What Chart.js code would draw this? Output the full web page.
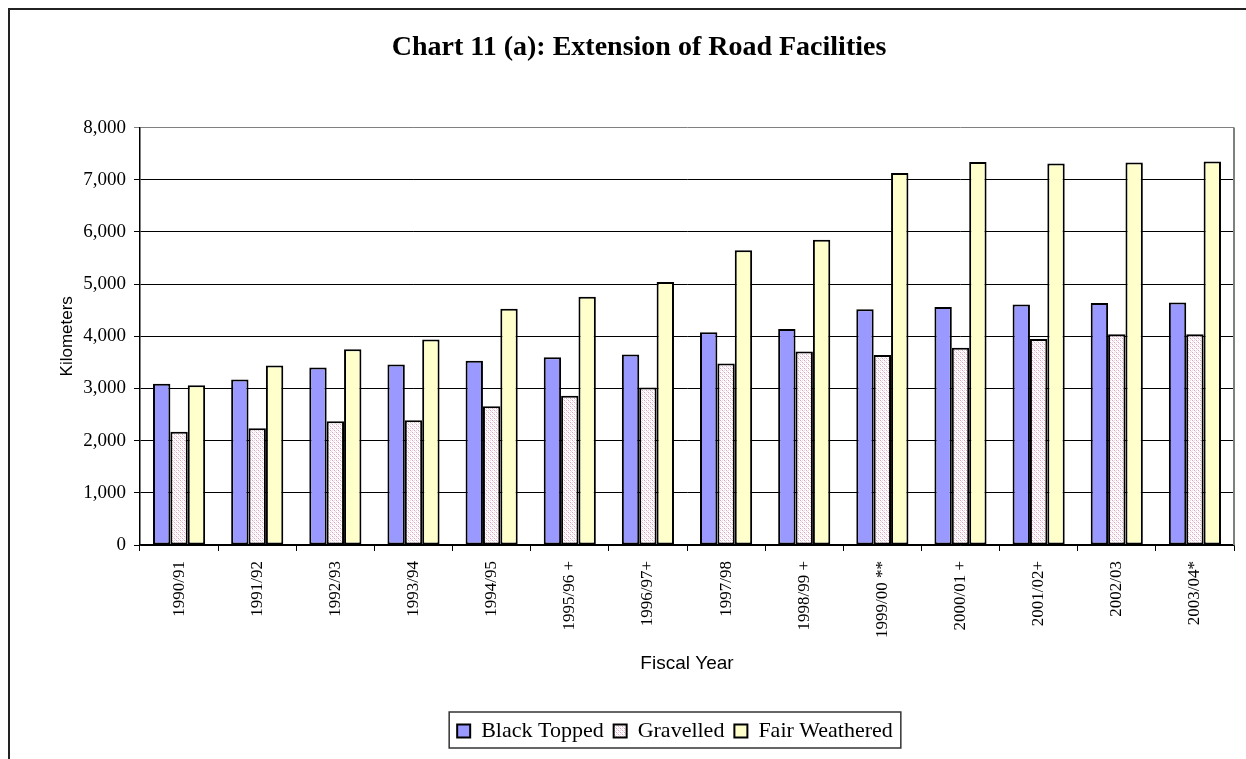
<!DOCTYPE html>
<html>
<head>
<meta charset="utf-8">
<script src="https://cdn.jsdelivr.net/npm/chart.js@4/dist/chart.umd.min.js"></script>
<style>
  html, body { margin: 0; padding: 0; background: #fff; }
  canvas { display: block; }
</style>
</head>
<body>
<canvas id="roadChart" width="1246" height="759"></canvas>
<script>
// Data (kilometres)
const categories = ['1990/91', '1991/92', '1992/93', '1993/94', '1994/95', '1995/96 +', '1996/97+',
    '1997/98', '1998/99 +', '1999/00 **', '2000/01 +', '2001/02+', '2002/03', '2003/04*'];
const blackTopped = [3090, 3170, 3400, 3460, 3530, 3600, 3650, 4080, 4140, 4520, 4560, 4610, 4640, 4650];
const gravelled = [2170, 2240, 2370, 2390, 2660, 2860, 3020, 3480, 3710, 3640, 3780, 3950, 4040, 4040];
const fairWeathered = [3060, 3440, 3750, 3940, 4530, 4760, 5040, 5650, 5850, 7130, 7340, 7310, 7330, 7350];
const yTicks = [0, 1000, 2000, 3000, 4000, 5000, 6000, 7000, 8000];

const SERIF = "'Liberation Serif', 'Times New Roman', serif";
const SANS = "'Liberation Sans', Arial, sans-serif";

// Dotted pink fill used by the "Gravelled" series
function makeDotPattern() {
    const c = document.createElement('canvas');
    c.width = 4;
    c.height = 4;
    const g = c.getContext('2d');
    g.fillStyle = '#ffffff';
    g.fillRect(0, 0, 4, 4);
    g.fillStyle = '#d9a3bd';
    g.fillRect(0, 0, 1, 1);
    g.fillRect(2, 2, 1, 1);
    g.fillStyle = '#f0d6e2';
    g.fillRect(2, 0, 1, 1);
    g.fillRect(0, 2, 1, 1);
    g.fillRect(1, 1, 1, 1);
    g.fillRect(3, 3, 1, 1);
    return g.createPattern(c, 'repeat');
}

// Frame, plot edge, legend box; title and legend sit off-centre in the original
const framePlugin = {
    id: 'frame',
    afterLayout(chart) {
        if (chart.titleBlock) {
            chart.titleBlock.left += 22;
            chart.titleBlock.right += 22;
        }
        if (chart.legend) {
            chart.legend.left += 58;
            chart.legend.right += 58;
        }
    },
    beforeDraw(chart) {
        const ctx = chart.ctx;
        ctx.save();
        ctx.fillStyle = '#fff';
        ctx.fillRect(0, 0, chart.width, chart.height);
        ctx.strokeStyle = '#222';
        ctx.lineWidth = 2;
        ctx.strokeRect(9, 9, chart.width + 20, chart.height + 20);
        ctx.restore();
    },
    beforeDatasetsDraw(chart) {
        // grey right edge of the plot area
        const a = chart.chartArea;
        const ctx = chart.ctx;
        ctx.save();
        ctx.strokeStyle = '#808080';
        ctx.lineWidth = 2;
        ctx.beginPath();
        ctx.moveTo(a.right, a.top);
        ctx.lineTo(a.right, a.bottom);
        ctx.stroke();
        ctx.restore();
    },
    afterDraw(chart) {
        // box round the legend
        const boxes = chart.legend && chart.legend.legendHitBoxes;
        if (!boxes || !boxes.length) return;
        const first = boxes[0];
        const last = boxes[boxes.length - 1];
        const ctx = chart.ctx;
        ctx.save();
        ctx.strokeStyle = '#333';
        ctx.lineWidth = 1.5;
        ctx.strokeRect(first.left - 8, first.top - 8, last.left + last.width - first.left + 16, first.height + 14);
        ctx.restore();
    }
};

const ctx = document.getElementById('roadChart').getContext('2d');

new Chart(ctx, {
    type: 'bar',
    data: {
        labels: categories,
        datasets: [
            { label: 'Black Topped', data: blackTopped, backgroundColor: '#9999ff' },
            { label: 'Gravelled', data: gravelled, backgroundColor: makeDotPattern() },
            { label: 'Fair Weathered', data: fairWeathered, backgroundColor: '#ffffcc' }
        ].map(ds => ({
            borderColor: '#000',
            borderWidth: 2,
            borderSkipped: false,
            categoryPercentage: 0.667,
            barPercentage: 1.0,
            ...ds
        }))
    },
    options: {
        responsive: false,
        animation: false,
        layout: { padding: { left: 0, right: 12, top: 0, bottom: 7 } },
        plugins: {
            title: {
                display: true,
                text: 'Chart 11 (a): Extension of Road Facilities',
                color: '#000',
                font: { family: SERIF, size: 28, weight: 'bold' },
                padding: { top: 31, bottom: 63 }
            },
            legend: {
                position: 'bottom',
                labels: {
                    color: '#000',
                    font: { family: SERIF, size: 22 },
                    boxWidth: 13,
                    boxHeight: 13,
                    padding: 10
                }
            },
            tooltip: { enabled: false }
        },
        scales: {
            x: {
                afterFit(scale) { scale.height = 165; },
                grid: {
                    offset: true,
                    drawOnChartArea: false,
                    drawTicks: true,
                    tickLength: 6,
                    color: '#000'
                },
                border: { color: '#000', width: 1.5 },
                ticks: {
                    color: '#000',
                    font: { family: SERIF, size: 17 },
                    minRotation: 90,
                    maxRotation: 90,
                    padding: 10,
                    autoSkip: false
                },
                title: {
                    display: true,
                    text: 'Fiscal Year',
                    color: '#000',
                    font: { family: SANS, size: 19 },
                    padding: { top: 0, bottom: 35 }
                }
            },
            y: {
                min: 0,
                max: 8000,
                afterFit(scale) { scale.width = 140; },
                afterBuildTicks(scale) { scale.ticks = yTicks.map(v => ({ value: v })); },
                grid: {
                    color: c => (c.tick && c.tick.value === 8000) ? '#808080' : '#000',
                    lineWidth: 1,
                    tickLength: 6
                },
                border: { color: '#000', width: 1.5 },
                ticks: {
                    color: '#000',
                    font: { family: SERIF, size: 19 },
                    padding: 8,
                    callback: v => v.toLocaleString('en-US')
                },
                title: {
                    display: true,
                    text: 'Kilometers',
                    color: '#000',
                    font: { family: SANS, size: 17 },
                    padding: { top: 57, bottom: 0 }
                }
            }
        }
    },
    plugins: [framePlugin]
});
</script>
</body>
</html>
